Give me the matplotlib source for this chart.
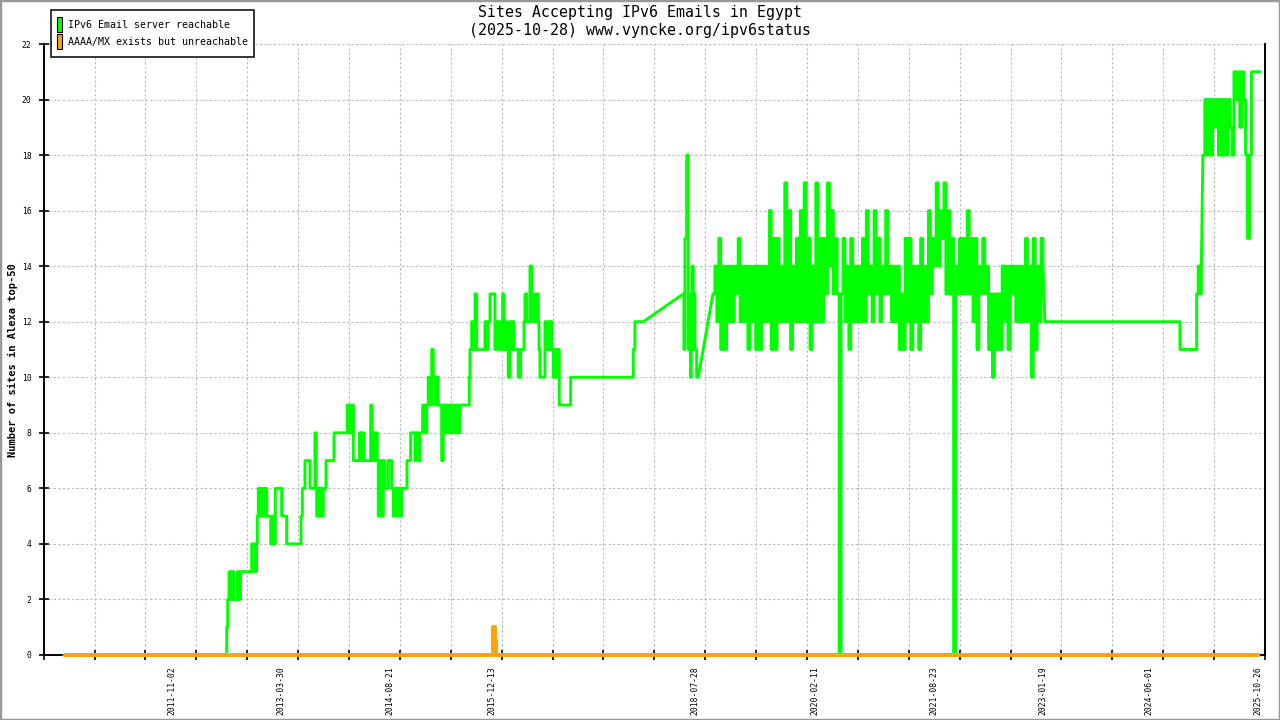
import numpy as np
import pandas as pd
import matplotlib
matplotlib.use("Agg")
import matplotlib.pyplot as plt
from matplotlib.patches import Rectangle

# ==========================================
# DATA (x = decimal year, y = number of sites)
# ==========================================
# 2010 - 2017: change points, value holds until the next point
A_YEARS = [
    2010.440, 2012.537, 2012.550, 2012.567, 2012.586, 2012.605, 2012.625, 2012.676, 2012.695, 2012.715,
    2012.859, 2012.901, 2012.921, 2012.931, 2012.944, 2012.966, 2012.988, 2013.008, 2013.030, 2013.052,
    2013.104, 2013.129, 2013.146, 2013.163, 2013.245, 2013.310, 2013.494, 2013.511, 2013.545, 2013.610,
    2013.674, 2013.687, 2013.696, 2013.717, 2013.730, 2013.748, 2013.764, 2013.781, 2013.816, 2013.919,
    2014.090, 2014.108, 2014.125, 2014.147, 2014.160, 2014.167, 2014.245, 2014.270, 2014.288, 2014.305,
    2014.391, 2014.408, 2014.425, 2014.443, 2014.460, 2014.476, 2014.489, 2014.511, 2014.533, 2014.554,
    2014.576, 2014.618, 2014.662, 2014.683, 2014.704, 2014.726, 2014.747, 2014.769, 2014.791, 2014.859,
    2014.907, 2014.962, 2014.984, 2015.004, 2015.026, 2015.061, 2015.095, 2015.113, 2015.133, 2015.155,
    2015.177, 2015.198, 2015.220, 2015.241, 2015.262, 2015.306, 2015.326, 2015.348, 2015.370, 2015.391,
    2015.413, 2015.435, 2015.455, 2015.477, 2015.499, 2015.520, 2015.541, 2015.661, 2015.670, 2015.692,
    2015.709, 2015.735, 2015.757, 2015.863, 2015.885, 2015.906, 2015.928, 2015.992, 2016.005, 2016.035,
    2016.057, 2016.078, 2016.091, 2016.108, 2016.134, 2016.151, 2016.163, 2016.185, 2016.207, 2016.228,
    2016.237, 2016.292, 2016.323, 2016.366, 2016.379, 2016.400, 2016.443, 2016.465, 2016.485, 2016.507,
    2016.529, 2016.550, 2016.559, 2016.572, 2016.636, 2016.649, 2016.679, 2016.700, 2016.713, 2016.722,
    2016.743, 2016.765, 2016.778, 2016.791, 2016.820, 2016.967, 2017.773, 2017.795, 2017.902,
]
A_VALUES = [
    0, 1, 2, 3, 2, 3, 2, 3, 2, 3,
    4, 3, 4, 5, 6, 5, 6, 5, 6, 5,
    4, 5, 4, 6, 5, 4, 5, 6, 7, 6,
    8, 6, 5, 6, 5, 6, 5, 6, 7, 8,
    9, 8, 9, 8, 9, 7, 8, 7, 8, 7,
    9, 7, 8, 7, 8, 7, 5, 7, 5, 7,
    6, 7, 6, 5, 6, 5, 6, 5, 6, 7,
    8, 7, 8, 7, 8, 9, 8, 9, 10, 9,
    11, 10, 9, 10, 9, 7, 9, 8, 9, 8,
    9, 8, 9, 8, 9, 8, 9, 10, 11, 12,
    11, 13, 11, 12, 11, 12, 13, 11, 12, 11,
    12, 11, 13, 11, 12, 11, 10, 12, 11, 12,
    11, 10, 11, 12, 13, 12, 14, 12, 13, 12,
    13, 12, 11, 10, 12, 11, 12, 11, 12, 11,
    10, 11, 10, 11, 9, 10, 11, 12, 12,
]

# mid 2018 (after the data gap)
C_YEARS = [2018.417, 2018.426, 2018.439, 2018.461, 2018.482, 2018.494, 2018.512,
           2018.520, 2018.529, 2018.546, 2018.555, 2018.568, 2018.590, 2018.610]
C_VALUES = [13, 11, 15, 18, 11, 12, 10, 13, 14, 11, 13, 11, 10, 10]

# 2018.8 - 2023: regular samples
E_START = 2018.80
E_STEP = 0.025
E_VALUES = [
    13, 14, 12, 15, 11, 14, 11, 14, 12, 14,
    12, 14, 13, 15, 12, 14, 12, 14, 11, 14,
    12, 14, 11, 14, 11, 14, 12, 14, 12, 16,
    11, 15, 11, 15, 12, 14, 12, 17, 12, 16,
    11, 14, 12, 15, 12, 16, 12, 17, 12, 15,
    11, 14, 12, 17, 12, 15, 12, 15, 13, 17,
    14, 16, 13, 15, 13, 0, 13, 15, 12, 14,
    11, 15, 12, 14, 12, 14, 12, 15, 12, 16,
    13, 14, 12, 16, 13, 15, 12, 14, 13, 16,
    13, 14, 12, 14, 12, 14, 11, 13, 11, 15,
    12, 15, 11, 14, 12, 14, 11, 15, 12, 14,
    12, 16, 13, 15, 14, 17, 14, 16, 15, 17,
    13, 16, 13, 15, 0, 14, 13, 15, 13, 15,
    13, 16, 13, 15, 12, 15, 11, 14, 13, 15,
    13, 14, 11, 13, 10, 13, 11, 13, 11, 14,
    12, 14, 11, 14, 13, 14, 12, 14, 12, 14,
    12, 15, 12, 14, 10, 15, 11, 14, 12, 15,
    14,
]

# 2023 - early 2025
F_YEARS = [2023.075, 2024.814, 2025.030, 2025.050, 2025.070, 2025.090]
F_VALUES = [12, 11, 13, 14, 13, 14]

# 2025: regular samples
G_START = 2025.11
G_STEP = 0.025
G_END = 2025.84
G_VALUES = [18, 20, 18, 20, 18, 20, 19, 20, 18, 20,
            18, 20, 18, 20, 19, 18, 21, 20, 21, 19,
            21, 20, 18, 15, 18, 21, 21, 21, 21]

# AAAA/MX exists but unreachable
O_YEARS = [2010.44, 2015.965, 2015.995, 2016.010, 2025.84]
O_VALUES = [0, 1, 0.5, 0, 0]

TICK_DATES = ["2011-11-02", "2013-03-30", "2014-08-21", "2015-12-13", "2018-07-28",
              "2020-02-11", "2021-08-23", "2023-01-19", "2024-06-01", "2025-10-26"]

TITLE_1 = "Sites Accepting IPv6 Emails in Egypt"
TITLE_2 = "(2025-10-28) www.vyncke.org/ipv6status"
YLABEL = "Number of sites in Alexa top-50"
LEGEND_LABELS = ["IPv6 Email server reachable", "AAAA/MX exists but unreachable"]

GREEN = "#00ff00"
ORANGE = "#ffa500"
MONO = "DejaVu Sans Mono"
W, H = 1280, 720


def steps(t, v):
    # corners of a "steps-post" line
    t = np.asarray(t, dtype=float)
    v = np.asarray(v, dtype=float)
    return np.repeat(t, 2)[1:], np.repeat(v, 2)[:-1]


def fig_box(x0, y0, x1, y1):
    # pixel box (from top-left) -> figure fraction rectangle args
    return (x0 / W, 1 - y1 / H), (x1 - x0) / W, (y1 - y0) / H


# ==========================================
# BUILD SERIES
# ==========================================
e_years = E_START + E_STEP * np.arange(len(E_VALUES))
g_years = np.append(G_START + G_STEP * np.arange(len(G_VALUES)), G_END)
g_values = G_VALUES + [G_VALUES[-1]]

pieces = [steps(A_YEARS, A_VALUES), steps(C_YEARS, C_VALUES),
          steps(e_years, E_VALUES), steps(F_YEARS, F_VALUES),
          steps(g_years, g_values)]
green_x = np.concatenate([p[0] for p in pieces])
green_y = np.concatenate([p[1] for p in pieces])

orange_x, orange_y = steps(O_YEARS, O_VALUES)

tick_dt = pd.to_datetime(TICK_DATES)
tick_pos = tick_dt.year + (tick_dt.dayofyear - 1) / (365 + tick_dt.is_leap_year.astype(int))

# ==========================================
# PLOT
# ==========================================
fig = plt.figure(figsize=(12.8, 7.2), dpi=100, facecolor="white")
ax = fig.add_axes([43.7 / W, 65 / H, 1221.3 / W, 611 / H])

ax.plot(green_x, green_y, color=GREEN, linewidth=2.1, zorder=3, clip_on=False)
ax.plot(orange_x, orange_y, color=ORANGE, linewidth=2.8, zorder=4, clip_on=False,
        solid_capstyle="butt")

ax.set_xlim(2010.18, 2025.91)
ax.set_ylim(0, 22)

ax.set_yticks(range(0, 23, 2))
ax.set_xticks(tick_pos)
ax.set_xticklabels(TICK_DATES, rotation=90)
ax.set_xticks(np.linspace(2010.18, 2025.91, 25), minor=True)

ax.tick_params(axis="x", which="major", length=0, pad=8, labelsize=5.8)
ax.tick_params(axis="x", which="minor", length=7, width=1.2, direction="inout")
ax.tick_params(axis="y", length=6.5, width=1.2, direction="inout", pad=5.5, labelsize=5.8)
for lab in ax.get_xticklabels() + ax.get_yticklabels():
    lab.set_fontfamily(MONO)

grid_style = dict(color="#b8b8b8", linestyle=(0, (2.2, 2.2)), linewidth=0.75)
ax.grid(axis="y", which="major", **grid_style)
ax.grid(axis="x", which="minor", **grid_style)
ax.set_axisbelow(True)

ax.spines["top"].set_visible(False)
for side in ["left", "right", "bottom"]:
    ax.spines[side].set_linewidth(1.4)
    ax.spines[side].set_color("black")

# titles and axis label
fig.text(0.5, 1 - 13 / H, TITLE_1, ha="center", va="center", family=MONO, fontsize=10.7)
fig.text(0.5, 1 - 31 / H, TITLE_2, ha="center", va="center", family=MONO, fontsize=10.7)
fig.text(13 / W, 0.5, YLABEL, rotation=90, ha="center", va="center",
         family=MONO, fontsize=7.5, fontweight="bold")

# legend (drawn as a boxed key, like the original GD chart)
xy, w, h = fig_box(50.7, 10.3, 254, 57.3)
fig.add_artist(Rectangle(xy, w, h, transform=fig.transFigure, facecolor="white",
                         edgecolor="black", linewidth=1.1, zorder=5))
key_rows = [(16.7, 32.3, 24.5, GREEN), (34.3, 49.3, 41.8, ORANGE)]
for (top, bottom, text_y, color), label in zip(key_rows, LEGEND_LABELS):
    xy, w, h = fig_box(56.7, top, 62.3, bottom)
    fig.add_artist(Rectangle(xy, w, h, transform=fig.transFigure, facecolor=color,
                             edgecolor="black", linewidth=0.8, zorder=6))
    fig.text(68.3 / W, 1 - text_y / H, label, ha="left", va="center",
             family=MONO, fontsize=7.2, zorder=6)

# outer border
fig.add_artist(Rectangle((0, 0), 1, 1, transform=fig.transFigure, fill=False,
                         edgecolor="#999999", linewidth=2.5))

fig.savefig("out.png", dpi=100)
